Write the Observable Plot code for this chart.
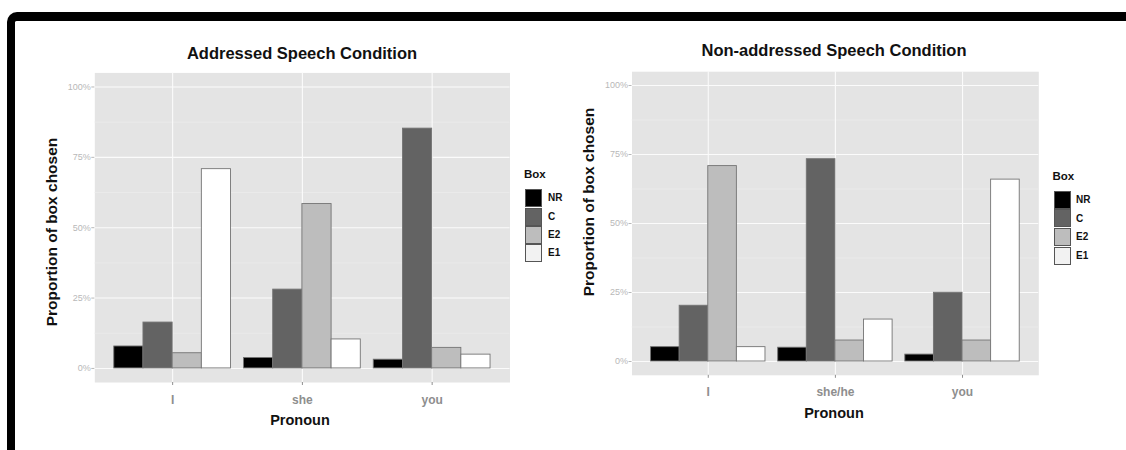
<!DOCTYPE html>
<html>
<head>
<meta charset="utf-8">
<script src="https://cdn.jsdelivr.net/npm/d3@7"></script>
<script src="https://cdn.jsdelivr.net/npm/@observablehq/plot@0.6"></script>
<style>
  body { margin: 0; background: #fff; }
  #wrap { position: relative; width: 1126px; height: 450px; overflow: hidden; font-family: "Liberation Sans", Arial, Helvetica, sans-serif; background: #fff; }
  #frame { position: absolute; left: 7px; top: 12px; width: 1300px; height: 600px; border-top: 9px solid #000; border-left: 8px solid #000; border-top-left-radius: 10px; box-sizing: border-box; }
  .abs { position: absolute; white-space: nowrap; line-height: 1; }
  .c { transform: translate(-50%, -50%); }
  .plot { position: absolute; top: 0; }
  .key { position: absolute; width: 17px; height: 18px; box-sizing: border-box; border: 1px solid #555; }
</style>
</head>
<body>
<div id="wrap"><div id="frame"></div></div>
<script>
// ---- data ----
const boxes = ["NR", "C", "E2", "E1"];
const boxFill = ["#000000", "#636363", "#bdbdbd", "#ffffff"];
const legendFill = ["#000000", "#636363", "#bdbdbd", "#f2f2f2"];

const pronounsAddressed = ["I", "she", "you"];
const pronounsNonAddressed = ["I", "she/he", "you"];

const yTicks = [0, 0.25, 0.5, 0.75, 1];
const yMinorTicks = [0.125, 0.375, 0.625, 0.875];

// Addressed Speech Condition (per pronoun I, she, you)
const addressedNR = [0.078, 0.037, 0.031];
const addressedC  = [0.163, 0.280, 0.852];
const addressedE2 = [0.054, 0.584, 0.073];
const addressedE1 = [0.708, 0.103, 0.049];

// Non-addressed Speech Condition (per pronoun I, she/he, you)
const nonAddressedNR = [0.052, 0.050, 0.025];
const nonAddressedC  = [0.202, 0.733, 0.249];
const nonAddressedE2 = [0.708, 0.076, 0.076];
const nonAddressedE1 = [0.052, 0.152, 0.659];

// ---- build tables ----
function table(pronouns, series) {
  const rows = [];
  pronouns.forEach((p, i) => {
    boxes.forEach((b, j) => {
      rows.push({ pronoun: p, pi: i, box: b, bi: j, value: series[j][i] });
    });
  });
  return rows;
}

const dodge = 0.9;           // ggplot position_dodge width
const barW = dodge / boxes.length;

function panel(pronouns, rows, o) {
  return Plot.plot({
    width: o.width,
    height: 450,
    marginLeft: o.ml,
    marginRight: o.mr,
    marginTop: o.mt,
    marginBottom: o.mb,
    style: { background: "transparent", fontFamily: "Liberation Sans, Arial, sans-serif", overflow: "visible" },
    x: { type: "linear", domain: [-0.6, pronouns.length - 0.4], axis: null },
    y: { domain: [-0.05, 1.05], axis: null },
    color: { domain: boxes, range: boxFill },
    marks: [
      Plot.frame({ fill: "#e4e4e4", stroke: "none" }),
      Plot.gridY(yMinorTicks, { stroke: "#eeeeee", strokeOpacity: 1, strokeWidth: 0.6 }),
      Plot.gridY(yTicks, { stroke: "#fbfbfb", strokeOpacity: 1, strokeWidth: 1.1 }),
      Plot.gridX(d3.range(pronouns.length), { stroke: "#fbfbfb", strokeOpacity: 1, strokeWidth: 1.1 }),
      Plot.rect(rows, {
        x1: d => d.pi - dodge / 2 + d.bi * barW,
        x2: d => d.pi - dodge / 2 + (d.bi + 1) * barW,
        y1: d => 0,
        y2: "value",
        fill: "box",
        stroke: "#747474",
        strokeWidth: 0.9
      }),
      Plot.axisY(yTicks, {
        tickFormat: d3.format(".0%"), tickSize: 3, tickPadding: 1,
        fontSize: 9, color: "#b8b8b8", label: null
      }),
      Plot.axisX(d3.range(pronouns.length), {
        tickFormat: i => pronouns[i], tickSize: 3, tickPadding: o.xpad,
        fontSize: 12, fontWeight: "bold", color: "#8e8e8e", label: null
      })
    ]
  });
}

const wrap = document.getElementById("wrap");

const left = panel(pronounsAddressed,
  table(pronounsAddressed, [addressedNR, addressedC, addressedE2, addressedE1]),
  { width: 560, ml: 94.3, mr: 50.5, mt: 72.4, mb: 68, xpad: 10 });
left.classList.add("plot");
left.style.left = "0px";
wrap.appendChild(left);

const right = panel(pronounsNonAddressed,
  table(pronounsNonAddressed, [nonAddressedNR, nonAddressedC, nonAddressedE2, nonAddressedE1]),
  { width: 566, ml: 71.5, mr: 87.7, mt: 71.2, mb: 75.2, xpad: 9.5 });
right.classList.add("plot");
right.style.left = "560px";
wrap.appendChild(right);

// ---- text ----
function text(str, x, y, css, centered = true) {
  const d = document.createElement("div");
  d.className = "abs" + (centered ? " c" : "");
  d.textContent = str;
  d.style.left = x + "px";
  d.style.top = y + "px";
  Object.assign(d.style, css);
  wrap.appendChild(d);
  return d;
}

const titleCss = { fontWeight: "bold", fontSize: "16.5px", color: "#111" };
text("Addressed Speech Condition", 302, 53, titleCss);
text("Non-addressed Speech Condition", 834, 50, titleCss);

const ytitleCss = { fontWeight: "bold", fontSize: "15.5px", color: "#111" };
const yl = text("Proportion of box chosen", 51.7, 231.5, ytitleCss);
yl.style.transform = "translate(-50%, -50%) rotate(-90deg)";
const yr = text("Proportion of box chosen", 589, 201.5, ytitleCss);
yr.style.transform = "translate(-50%, -50%) rotate(-90deg)";

const xtitleCss = { fontWeight: "bold", fontSize: "14.5px", color: "#111" };
text("Pronoun", 300, 420, xtitleCss);
text("Pronoun", 834, 412.7, xtitleCss);

// ---- legends ----
function legend(x, yBox, yKey0, step, labelX) {
  text("Box", x - 1, yBox, { fontWeight: "bold", fontSize: "11.5px", color: "#111", transform: "translate(0,-50%)" }, false);
  boxes.forEach((b, j) => {
    const k = document.createElement("div");
    k.className = "key";
    k.style.left = x + "px";
    k.style.top = (yKey0 + j * step) + "px";
    k.style.background = legendFill[j];
    wrap.appendChild(k);
    text(b, labelX, yKey0 + j * step + step / 2, { fontWeight: "bold", fontSize: "10px", color: "#111", transform: "translate(0,-50%)" }, false);
  });
}
legend(525, 175, 189.3, 18.3, 548);
legend(1053.5, 176.7, 190.7, 18.6, 1076);
</script>
</body>
</html>
